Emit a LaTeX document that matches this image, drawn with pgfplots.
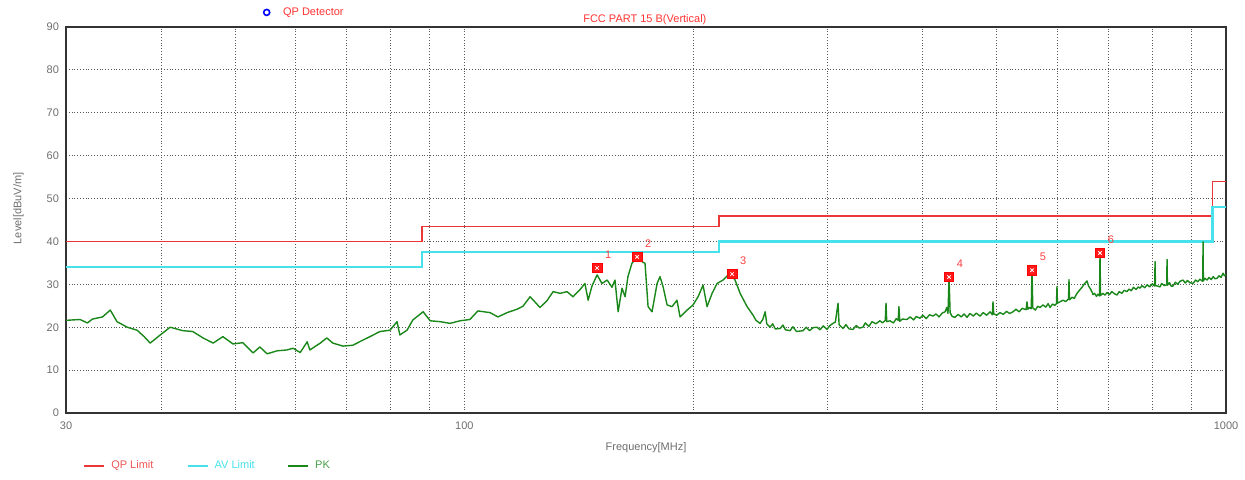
\documentclass[border=0pt]{standalone}
\usepackage{fontspec}
\setmainfont{Liberation Sans}
\usepackage{pgfplots}
\pgfplotsset{compat=1.18}

\definecolor{qpred}{RGB}{235,55,55}
\definecolor{avcyan}{RGB}{70,225,235}
\definecolor{pkgreen}{RGB}{25,135,25}
\definecolor{tickgray}{RGB}{110,110,110}

\begin{document}
\begin{tikzpicture}
\useasboundingbox (-33pt,-33.5pt) rectangle (589.5pt,206.5pt);
\begin{axis}[
    at={(0,0)}, anchor=south west,
    scale only axis,
    width=580pt, height=193pt,
    xmode=log,
    xmin=30, xmax=1000,
    ymin=0, ymax=90,
    xtick={30,100,1000},
    xticklabels={30,100,1000},
    minor xtick={40,50,60,70,80,90,200,300,400,500,600,700,800,900},
    ytick={0,10,...,90},
    major tick length=0pt, minor tick length=0pt,
    grid=both,
    major grid style={densely dotted, black!65, line width=0.5pt},
    minor grid style={densely dotted, black!65, line width=0.5pt},
    axis line style={black!80, line width=1pt},
    /pgf/number format/assume math mode=true,
    tick label style={font=\fontsize{5.5}{6.5}\selectfont, text=tickgray},
    xticklabel style={yshift=-1pt},
    xlabel={Frequency[MHz]},
    ylabel={Level[dBuV/m]},
    label style={font=\fontsize{5.5}{6.5}\selectfont, text=tickgray},
    x label style={at={(axis description cs:0.5,0)}, anchor=center, yshift=-17.5pt},
    y label style={at={(axis description cs:-0.041,0.53)}, anchor=center},
    legend style={at={(axis description cs:0.0147,-0.137)}, anchor=west,
        draw=none, fill=none, inner sep=0pt,
        font=\fontsize{5.5}{6.5}\selectfont,
        /tikz/every even column/.append style={column sep=14.5pt},
        /tikz/every odd column/.append style={column sep=1pt}},
    legend columns=-1,
    legend image code/.code={\draw[#1] (0pt,0pt) -- (10pt,0pt);},
    clip=false,
]
% QP limit
\addplot[qpred, line width=0.9pt] coordinates {
  (30,40) (88,40) (88,43.5) (216,43.5) (216,46) (960,46) (960,54) (1000,54)};
\addlegendentry{\textcolor{qpred!85}{QP Limit}}
% AV limit
\addplot[avcyan, line width=1.1pt] coordinates {
  (30,34) (88,34) (88,37.5) (216,37.5) (216,40) (960,40) (960,48) (1000,48)};
\addlegendentry{\textcolor{avcyan}{AV Limit}}
% PK trace
\addplot[pkgreen, line width=0.7pt, line join=round] coordinates {
(30.0,21.6) (30.6,21.7) (31.3,21.8) (32.0,21.0) (32.5,21.9) (33.5,22.4) (34.3,24.0)
(35.0,21.3) (36.1,20.0) (37.2,19.3) (38.0,17.8) (38.7,16.3) (39.9,18.2) (41.1,20.0)
(42.7,19.2) (44.0,19.0) (45.4,17.5) (46.8,16.3) (48.2,17.8) (49.7,16.1) (51.2,16.4)
(52.8,14.0) (53.9,15.4) (55.1,13.8) (56.8,14.5) (58.5,14.7) (59.6,15.1) (60.9,14.1)
(62.2,16.6) (62.7,14.7) (64.7,16.3) (66.0,17.5) (67.2,16.3) (69.3,15.6) (71.4,15.8)
(73.6,17.0) (75.2,17.8) (77.5,19.0) (79.9,19.3) (81.6,21.3) (82.3,18.2) (84.1,19.3)
(85.6,21.7) (88.3,23.6) (90.2,21.5) (92.9,21.3) (95.8,20.9) (98.7,21.5) (101.7,21.8)
(104.2,23.8) (108.1,23.4) (110.7,22.4) (113.8,23.4) (117.3,24.2) (119.4,24.9)
(122.0,27.1) (123.8,25.9) (125.7,24.6) (128.4,26.2) (130.8,28.3) (133.6,27.9)
(136.4,28.3) (138.9,27.1) (141.9,28.8) (144.0,30.2) (145.4,26.3) (147.1,29.6)
(149.4,32.2) (151.6,30.2) (154.0,31.0) (156.3,29.3) (157.7,31.0) (159.2,23.6)
(161.1,29.1) (162.6,27.1) (164.0,31.8) (166.0,34.9) (168.6,36.4) (171.1,35.3)
(172.7,34.9) (174.3,24.8) (176.4,23.6) (179.1,30.2) (180.7,31.8) (182.4,29.4)
(184.6,25.2) (187.4,24.8) (190.2,26.3) (192.0,22.4) (196.1,24.0) (199.7,25.2)
(202.7,27.1) (205.8,29.8) (208.3,24.8) (211.5,27.9) (214.7,30.2) (218.6,31.0)
(223.3,32.6) (226.7,31.0) (230.2,27.9) (235.1,24.8) (239.4,22.8) (241.5,21.6)
(244.5,20.9) (246.5,21.8) (248.3,23.6) (249.5,20.8) (252.0,20.0) (254,20.8)
(256,19.6) (259.8,19.7) (262,20.5) (264,19.4) (267.7,19.2) (270,20.1) (273,19.0)
(278.5,19.2) (281,20.0) (284,19.2) (287,19.9) (290.5,20.0) (293,19.4) (296,20.3)
(299.3,19.5) (302,20.4) (304.8,20.9) (307,21.2) (309.5,25.6) (310.5,20.6)
(314.2,19.7) (317,20.6) (320,19.6) (323.8,19.5) (327,20.4) (330,19.8) (333.7,20.0)
(336,21.0) (339.8,20.2) (343,21.3) (347,20.8) (351.3,21.5) (354,21.0) (357,21.6)
(357.8,25.6) (358.6,21.3) (362.1,21.5) (366,21.0) (369,22.0) (371.2,21.6)
(372.1,24.8) (373,21.4) (376,21.9) (381.2,21.8) (385,22.4) (389,21.7) (392,22.5)
(396.5,22.1) (400,22.8) (404,22.0) (408,22.9) (412.4,22.6) (416,23.1) (420,22.4)
(424,23.3) (427.7,23.6) (430,24.6) (431.5,23.2) (432.9,31.6) (434.3,23.4)
(437,22.5) (440.8,22.3) (445,23.0) (449,22.4) (453,23.1) (457.1,22.3) (461,23.2)
(466,22.6) (470,23.3) (475.4,22.6) (480,23.4) (485,22.8) (490,23.6) (493.5,22.9)
(494.4,25.9) (495.5,23.1) (500,22.8) (505,23.4) (510,23.0) (515,23.7) (520,23.2)
(525.2,23.6) (530,24.2) (535,23.6) (540,24.4) (546.5,24.1) (547.9,25.9)
(549.3,24.2) (552,24.6) (555,24.3) (556.3,33.3) (557.6,24.5) (562,24.0) (566,24.9)
(570,24.6) (575,25.2) (580,24.7) (584,25.5) (587.5,24.6) (592,25.4) (596,25.1)
(599.0,25.5) (599.9,29.5) (600.8,25.6) (605,25.9) (610.9,26.3) (616,26.0)
(621.2,26.6) (622.1,31.1) (623,26.4) (628,27.0) (632,26.7) (637.3,27.9) (642,28.6)
(647,29.3) (651,30.0) (656.9,30.8) (660,29.6) (664,28.9) (667,28.2) (668.9,27.6)
(672,27.9) (676,27.2) (679,27.7) (682.3,27.3) (683.3,37.3) (684.3,27.4) (689,27.9)
(693.6,27.5) (698,28.1) (703,27.6) (708,28.3) (714,27.8) (719.3,27.5) (724,28.3)
(730,27.9) (735,28.6) (741.3,28.3) (746,28.9) (751,28.5) (756,29.3) (762,28.8)
(767,29.4) (771.1,29.1) (776,29.7) (782,29.2) (788,29.9) (794,29.4) (800,30.1)
(805.9,29.6) (806.9,35.3) (807.9,29.7) (813,29.6) (819.2,29.4) (823,30.2)
(830,29.7) (835.8,29.9) (836.7,35.8) (837.6,29.8) (843,30.4) (847,29.6)
(852.0,29.6) (858,30.5) (864,30.0) (870,30.7) (878.2,31.0) (884,30.3) (890,30.9)
(896,30.4) (905.1,30.2) (912,31.0) (918,30.6) (924,31.2) (932.0,30.7) (932.9,39.9)
(933.8,30.8) (938,31.4) (944.3,31.0) (950,31.6) (956,31.1) (962,31.8) (967,31.3)
(973.2,31.4) (979,32.0) (985,31.6) (991.0,32.6) (995,32.0) (1000,32.3)};
\addlegendentry{\textcolor{pkgreen!80!white}{PK}}
% marker points
\addplot[only marks, mark=square*, mark size=2.4pt, color=red,
    mark options={fill=red!90, draw=red},
    nodes near coords=\pgfplotspointmeta, point meta=explicit symbolic,
    nodes near coords style={anchor=center, xshift=5.5pt, yshift=6.5pt,
        text=red!75, font=\fontsize{5.5}{6.5}\selectfont},
    forget plot] coordinates {
  (149.4,33.8) [1] (168.6,36.4) [2] (224.7,32.4) [3]
  (432.9,31.7) [4] (556.3,33.3) [5] (683.3,37.3) [6]};
\addplot[only marks, mark=x, mark size=1.2pt, color=white, line width=0.4pt,
    forget plot] coordinates {
  (149.4,33.8) (168.6,36.4) (224.7,32.4) (432.9,31.7) (556.3,33.3) (683.3,37.3)};
% header texts
\draw[blue, line width=0.8pt] ([yshift=7.3pt]axis description cs:0.173,1) circle (1.5pt);
\node[anchor=west, inner sep=0pt, text=red!80, font=\fontsize{5.5}{6.5}\selectfont]
  at ([yshift=7.3pt, xshift=8pt]axis description cs:0.173,1) {QP Detector};
\node[anchor=south, inner sep=0pt, text=red!80, font=\fontsize{5.5}{6.5}\selectfont]
  at ([yshift=1pt]axis description cs:0.499,1) {FCC PART 15 B(Vertical)};
\end{axis}
\end{tikzpicture}
\end{document}
